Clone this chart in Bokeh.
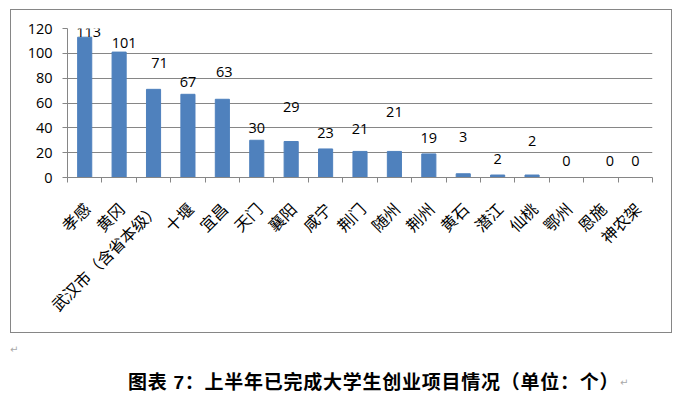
from math import pi
from bokeh.plotting import figure
from bokeh.layouts import column
from bokeh.models import FixedTicker, LabelSet, ColumnDataSource, Range1d, Div
from bokeh.core.properties import value
from bokeh.embed import file_html
from bokeh.resources import INLINE

categories = ["孝感", "黄冈", "武汉市（含省本级）", "十堰", "宜昌", "天门", "襄阳",
              "咸宁", "荆门", "随州", "荆州", "黄石", "潜江", "仙桃", "鄂州",
              "恩施", "神农架"]
values = [113, 101, 71, 67, 63, 30, 29, 23, 21, 21, 19, 3, 2, 2, 0, 0, 0]
y_ticks = [0, 20, 40, 60, 80, 100, 120]
caption = "图表 7：上半年已完成大学生创业项目情况（单位：个）"

# pixel nudges of the data labels, as placed in the original
label_dx = [4, 5, 6, 0, 2, 0, 0, 0, 0, 0, 0, 0, 0, 0, 0, 9, 0]
label_dy = [5, 9, 26, 12, 27, 12, 34, 16, 22, 39, 16, 37, 16, 34, 17, 17, 17]

BAR = "#4F81BD"
GRID = "#868686"
NUMFONT = "Open Sans"
CJK = "Noto Sans CJK SC"
LABEL_SHIFT = 0.06  # category labels sit slightly right of the slot centre

n = len(categories)
centers = [i + 0.5 for i in range(n)]
bounds = [float(i) for i in range(n + 1)]
label_pos = [c + LABEL_SHIFT for c in centers]

# ---- chart box ----
p = figure(width=662, height=324, x_range=Range1d(0, n), y_range=Range1d(0, 120),
           output_backend="svg", toolbar_location=None,
           min_border_left=57, min_border_right=20, min_border_top=19,
           min_border_bottom=156)
p.margin = (9, 0, 0, 10)
p.styles = {"outline": "1px solid " + GRID, "outline-offset": "-1px"}
p.outline_line_color = None
p.background_fill_color = "white"
p.border_fill_color = None

src = ColumnDataSource(dict(x=centers, top=values, lab=[str(v) for v in values],
                            dx=label_dx, dy=label_dy))
p.vbar(x="x", top="top", width=0.41, color=BAR, source=src)

labels = LabelSet(x="x", y="top", text="lab", x_offset="dx", y_offset="dy",
                  source=src, text_align="center", text_baseline="middle",
                  text_font=value(NUMFONT), text_font_size=value("14.5px"),
                  text_color="black")
p.add_layout(labels)

ya = p.yaxis[0]
ya.ticker = FixedTicker(ticks=y_ticks)
ya.axis_line_color = GRID
ya.major_tick_line_color = GRID
ya.major_tick_out = 5
ya.major_tick_in = 0
ya.minor_tick_line_color = None
ya.major_label_standoff = 10
ya.major_label_text_font = NUMFONT
ya.major_label_text_font_size = "14.5px"
ya.major_label_text_color = "black"

xa = p.xaxis[0]
xa.ticker = FixedTicker(ticks=label_pos, minor_ticks=bounds)
xa.major_label_overrides = {c: name for c, name in zip(label_pos, categories)}
xa.major_tick_line_color = None
xa.major_tick_out = 0
xa.major_tick_in = 0
xa.minor_tick_line_color = GRID
xa.minor_tick_out = 5
xa.minor_tick_in = 0
xa.axis_line_color = GRID
xa.major_label_orientation = pi / 4
xa.major_label_standoff = 23
xa.major_label_text_font = CJK
xa.major_label_text_font_size = "16px"
xa.major_label_text_color = "black"

p.xgrid.visible = False
p.ygrid.ticker = FixedTicker(ticks=y_ticks)
p.ygrid.grid_line_color = GRID
p.ygrid.grid_line_width = 1

# ---- caption strip below the box ----
mark = "color:#a8a8a8;font-family:'DejaVu Sans';font-size:10px;line-height:10px;"
html = (
    '<div style="position:relative;width:687px;height:61px;background:white;">'
    f'<span style="position:absolute;left:10px;top:12px;{mark}">↵</span>'
    f'<span style="position:absolute;left:128px;top:40px;white-space:nowrap;'
    f"font-family:'Liberation Sans','{CJK}';font-size:19px;line-height:19px;"
    f'letter-spacing:0.75px;font-weight:bold;color:black;">{caption}</span>'
    f'<span style="position:absolute;left:620px;top:45px;{mark}">↵</span>'
    '</div>'
)
cap = Div(text=html, width=687, height=61, margin=0)

layout = column(p, cap, spacing=0)
open("out.html", "w").write(file_html(layout, INLINE))
